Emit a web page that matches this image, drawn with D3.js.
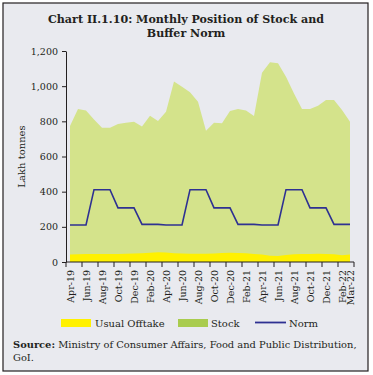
<html>
<head>
<script src="https://d3js.org/d3.v7.min.js"></script>
<style>
  body { margin: 0; background: #fff; }
  text { font-family: "DejaVu Serif", serif; fill: #231f20; }
</style>
</head>
<body>
<svg id="chart" width="373" height="375"></svg>
<script>
const months = ["Apr-19","May-19","Jun-19","Jul-19","Aug-19","Sep-19","Oct-19","Nov-19","Dec-19","Jan-20","Feb-20","Mar-20",
                "Apr-20","May-20","Jun-20","Jul-20","Aug-20","Sep-20","Oct-20","Nov-20","Dec-20","Jan-21","Feb-21","Mar-21",
                "Apr-21","May-21","Jun-21","Jul-21","Aug-21","Sep-21","Oct-21","Nov-21","Dec-21","Jan-22","Feb-22","Mar-22"];
const stock = [773, 870, 861, 811, 764, 764, 785, 792, 798, 770, 832, 802,
               855, 1026, 997, 965, 912, 747, 792, 789, 859, 870, 861, 830,
               1077, 1136, 1130, 1054, 959, 870, 870, 889, 921, 921, 864, 798];
const offtake = [43, 44, 45, 45, 45, 46, 46, 47, 48, 50, 53, 55,
                 54, 50, 48, 47, 47, 47, 49, 51, 53, 51, 50, 46,
                 42, 36, 34, 40, 44, 45, 45, 47, 46, 44, 38, 42];
const norm = [210.4, 210.4, 210.4, 411.2, 411.2, 411.2, 307.7, 307.7, 307.7, 214.1, 214.1, 214.1,
              210.4, 210.4, 210.4, 411.2, 411.2, 411.2, 307.7, 307.7, 307.7, 214.1, 214.1, 214.1,
              210.4, 210.4, 210.4, 411.2, 411.2, 411.2, 307.7, 307.7, 307.7, 214.1, 214.1, 214.1];
const yTicks = [0, 200, 400, 600, 800, 1000, 1200];
const xLabels = ["Apr-19","Jun-19","Aug-19","Oct-19","Dec-19","Feb-20","Apr-20","Jun-20","Aug-20","Oct-20",
                 "Dec-20","Feb-21","Apr-21","Jun-21","Aug-21","Oct-21","Dec-21","Feb-22","Mar-22"];

const svg = d3.select("#chart");

// frame
svg.append("rect").attr("x", 3).attr("y", 3).attr("width", 365).attr("height", 368)
  .attr("fill", "#e9eaef").attr("stroke", "#231f20").attr("stroke-width", 1.2);

// title
svg.append("text").attr("x", 186).attr("y", 23).attr("text-anchor", "middle")
  .attr("font-size", 11.1).attr("font-weight", "bold").text("Chart II.1.10: Monthly Position of Stock and");
svg.append("text").attr("x", 186).attr("y", 37).attr("text-anchor", "middle")
  .attr("font-size", 11.1).attr("font-weight", "bold").text("Buffer Norm");

const plotLeft = 66, plotRight = 354, plotTop = 51, plotBottom = 262;

const x = d3.scaleBand().domain(months).range([plotLeft, plotRight]);
const xc = d => x(d) + x.bandwidth() / 2;
const y = d3.scaleLinear().domain([0, 1200]).range([plotBottom, plotTop]);

const data = months.map((m, i) => ({m: m, stock: stock[i], off: offtake[i], norm: norm[i]}));

// stock area
svg.append("path").datum(data)
  .attr("fill", "#d4e38b")
  .attr("d", d3.area().x(d => xc(d.m)).y0(y(0)).y1(d => y(d.stock)));

// offtake area
svg.append("path").datum(data)
  .attr("fill", "#fff100")
  .attr("d", d3.area().x(d => xc(d.m)).y0(y(0)).y1(d => y(d.off)));

// norm line
svg.append("path").datum(data)
  .attr("fill", "none").attr("stroke", "#2e3192").attr("stroke-width", 1.6)
  .attr("d", d3.line().x(d => xc(d.m)).y(d => y(d.norm)));

// y axis
const yAxis = svg.append("g").attr("transform", `translate(${plotLeft},0)`)
  .call(d3.axisLeft(y).tickValues(yTicks).tickFormat(d3.format(",")).tickSize(4).tickSizeOuter(0).tickPadding(4));
yAxis.selectAll("text").attr("font-size", 9.5).style("font-family", "DejaVu Serif, serif").attr("fill", "#231f20");
yAxis.selectAll("line, path").attr("stroke", "#231f20");

svg.append("text").attr("transform", `translate(25,${(plotTop + plotBottom) / 2}) rotate(-90)`)
  .attr("text-anchor", "middle").attr("font-size", 10).text("Lakh tonnes");

// x axis
const xg = svg.append("g");
xg.append("line").attr("x1", plotLeft).attr("x2", plotRight).attr("y1", plotBottom).attr("y2", plotBottom)
  .attr("stroke", "#231f20");
const tickPos = months.filter((m, i) => i % 2 === 0).map(m => x(m)).concat([plotRight]);
xg.selectAll("line.tick").data(tickPos).join("line").attr("class", "tick")
  .attr("x1", d => d).attr("x2", d => d).attr("y1", plotBottom).attr("y2", plotBottom + 5)
  .attr("stroke", "#231f20");
xg.selectAll("text").data(xLabels).join("text")
  .attr("transform", d => `translate(${xc(d) + 3.5},${plotBottom + 8}) rotate(-90)`)
  .attr("text-anchor", "end").attr("font-size", 9.5).text(d => d);

// legend
const lg = svg.append("g");
lg.append("rect").attr("x", 61).attr("y", 319).attr("width", 30).attr("height", 8).attr("fill", "#fff100");
lg.append("text").attr("x", 95).attr("y", 327).attr("font-size", 10).text("Usual Offtake");
lg.append("rect").attr("x", 178).attr("y", 319).attr("width", 30).attr("height", 8).attr("fill", "#a9cc4e");
lg.append("text").attr("x", 211).attr("y", 327).attr("font-size", 10).text("Stock");
lg.append("line").attr("x1", 255).attr("x2", 286).attr("y1", 322.5).attr("y2", 322.5)
  .attr("stroke", "#2e3192").attr("stroke-width", 1.8);
lg.append("text").attr("x", 289).attr("y", 327).attr("font-size", 10).text("Norm");

// source
const src = svg.append("text").attr("x", 13).attr("y", 348).attr("font-size", 9.9);
src.append("tspan").attr("font-weight", "bold").text("Source:");
src.append("tspan").text(" Ministry of Consumer Affairs, Food and Public Distribution,");
svg.append("text").attr("x", 13).attr("y", 361).attr("font-size", 9.9).text("GoI.");
</script>
</body>
</html>
